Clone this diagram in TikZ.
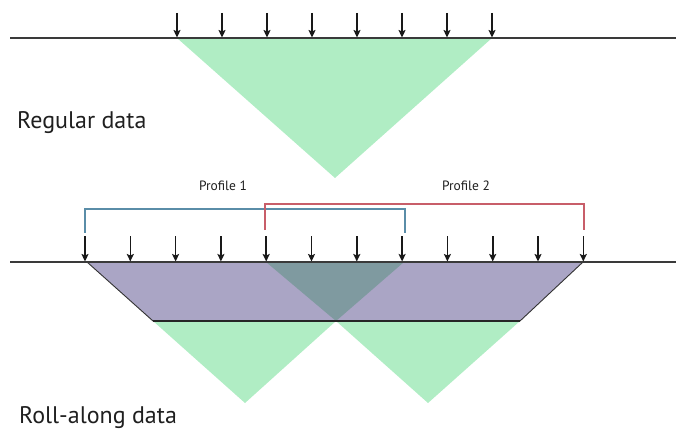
\documentclass[tikz,border=0pt]{standalone}
\usepackage{fontspec}
\setmainfont{PT Sans}
\usetikzlibrary{arrows.meta}
\definecolor{fgreen}{HTML}{B0EDC4}
\definecolor{fpurple}{HTML}{AAA5C5}
\definecolor{fdark}{HTML}{7F9AA0}
\definecolor{pblue}{HTML}{5A8DA8}
\definecolor{pred}{HTML}{C85E69}
\definecolor{gline}{HTML}{3A3A3A}
\tikzset{
  ground/.style={draw=gline, line width=1.5pt},
  geo/.style={draw=black!90, line width=1.6pt, -{Stealth[length=7.5pt,width=7pt,inset=1.5pt]}},
  bracket/.style={line width=1.05pt},
  bigtxt/.style={anchor=base west, inner sep=0pt, font=\fontsize{24}{27}\selectfont, text=black!88},
  smalltxt/.style={anchor=base, inner sep=0pt, font=\fontsize{13.5}{15}\selectfont, text=black!88}
}
\begin{document}
\begin{tikzpicture}[x=1pt,y=-1pt]
\useasboundingbox (0,0) rectangle (676,430);
% ---------- regular data ----------
\fill[fgreen] (177,38) -- (492,38) -- (335,178) -- cycle;
\coordinate (gl1) at (10,38);
\coordinate (gr1) at (676,38);
\draw[ground] (gl1) -- (gr1);
\foreach \i in {0,...,7} {
  \coordinate (t\i) at ({177+45*\i},13);
  \coordinate (b\i) at ({177+45*\i},37.5);
  \draw[geo] (t\i) -- (b\i);
}
\node[bigtxt] (reg) at (17,129) {Regular data};
% ---------- roll-along data ----------
\fill[fgreen] (153,321) -- (336,321) -- (245,403) -- cycle;
\fill[fgreen] (336,321) -- (520,321) -- (428,403) -- cycle;
\coordinate (A) at (87,262);
\coordinate (B) at (583,262);
\coordinate (C) at (520,321);
\coordinate (D) at (153,321);
\fill[fpurple] (A) -- (B) -- (C) -- (D) -- cycle;
\fill[fdark] (266,262) -- (404,262) -- (336,321) -- cycle;
\draw[black!80, line width=0.9pt] (A) -- (D);
\draw[black!80, line width=0.9pt] (B) -- (C);
\draw[black!85, line width=2pt] (D) -- (C);
\coordinate (gl2) at (10,262);
\coordinate (gr2) at (676,262);
\draw[ground] (gl2) -- (gr2);
\foreach \i in {0,...,11} {
  \coordinate (u\i) at ({85+45.3*\i},236);
  \coordinate (v\i) at ({85+45.3*\i},261.5);
  \draw[geo] (u\i) -- (v\i);
}
% brackets
\coordinate (p1a) at (85,233);
\coordinate (p1b) at (85,209);
\coordinate (p1c) at (405,209);
\coordinate (p1d) at (405,233);
\draw[bracket, pblue] (p1a) -- (p1b) -- (p1c) -- (p1d);
\coordinate (p2a) at (265,230);
\coordinate (p2b) at (265,204);
\coordinate (p2c) at (584,204);
\coordinate (p2d) at (584,230);
\draw[bracket, pred] (p2a) -- (p2b) -- (p2c) -- (p2d);
\node[smalltxt] (pf1) at (223,191) {Profile 1};
\node[smalltxt] (pf2) at (466,191) {Profile 2};
\node[bigtxt] (roll) at (19,423) {Roll-along data};
\end{tikzpicture}
\end{document}
